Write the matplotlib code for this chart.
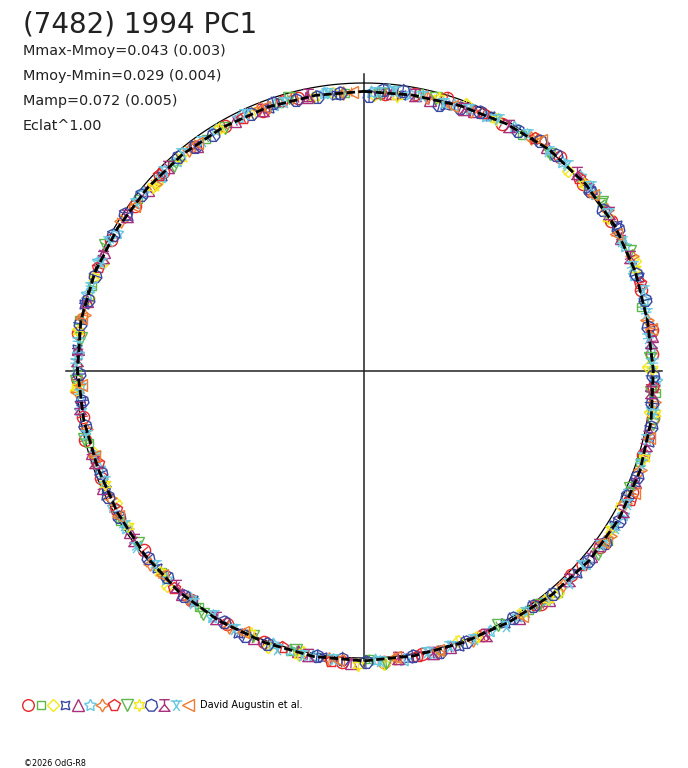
import numpy as np
import matplotlib
matplotlib.use("Agg")
import matplotlib.pyplot as plt
from matplotlib.path import Path
from matplotlib.collections import LineCollection

# ---------------- data ----------------
title = "(7482) 1994 PC1"
info_lines = ["Mmax-Mmoy=0.043 (0.003)", "Mmoy-Mmin=0.029 (0.004)",
              "Mamp=0.072 (0.005)", "Eclat^1.00"]
credit = "David Augustin et al."
copyright_txt = "\u00a92026 OdG-R8"

# model light curve (phase in degrees, delta magnitude)
model_deg = [0, 10, 20, 30, 40, 50, 60, 70, 80, 90, 100, 110, 120, 130, 140, 150, 160, 170,
             180, 190, 200, 210, 220, 230, 240, 250, 260, 270, 280, 290, 300, 310, 320, 330, 340, 350]
model_dm = [0.032, 0.030, 0.022, 0.010, -0.003, -0.008, -0.008, -0.005, -0.001, -0.007, -0.015, -0.023,
            -0.028, -0.027, -0.019, -0.011, -0.008, -0.008, -0.011, -0.011, -0.008, -0.007, -0.004, 0.004,
            0.011, 0.015, 0.011, 0.004, 0.000, 0.004, 0.011, 0.016, 0.020, 0.024, 0.027, 0.031]

phase_01 = [0.012, 0.047, 0.081, 0.118, 0.163, 0.205, 0.241, 0.276, 0.318, 0.352, 0.397, 0.433,
            0.468, 0.512, 0.556, 0.603, 0.641, 0.688, 0.724, 0.771, 0.826, 0.874, 0.918, 0.962,
            0.029, 0.138, 0.228, 0.297, 0.374, 0.489, 0.579, 0.711, 0.849, 0.941]
mag_01 = [0.041, 0.010, 0.020, -0.008, -0.004, -0.002, -0.004, -0.019, -0.024, -0.027, -0.020, -0.010,
          -0.007, -0.018, -0.006, 0.000, 0.014, 0.013, 0.009, -0.004, 0.011, 0.020, 0.023, 0.026,
          0.024, 0.000, -0.012, -0.016, -0.015, -0.017, -0.003, 0.001, 0.020, 0.036]

phase_02 = [0.031, 0.094, 0.152, 0.214, 0.262, 0.301, 0.347, 0.404, 0.458, 0.497, 0.541, 0.597,
            0.662, 0.709, 0.752, 0.798, 0.853, 0.905, 0.951, 0.175, 0.386, 0.625, 0.778, 0.989]
mag_02 = [0.018, 0.015, -0.014, 0.012, -0.019, -0.013, -0.036, -0.012, -0.008, -0.003, -0.009, -0.004,
          0.004, 0.013, 0.000, 0.011, 0.014, 0.027, 0.028, -0.002, -0.027, 0.008, -0.006, 0.036]

phase_03 = [0.006, 0.058, 0.127, 0.189, 0.248, 0.327, 0.386, 0.447, 0.489, 0.534, 0.618, 0.672,
            0.739, 0.812, 0.867, 0.936, 0.982, 0.101, 0.273, 0.553, 0.703, 0.791]
mag_03 = [0.046, 0.009, 0.008, -0.016, 0.012, -0.011, -0.030, 0.004, -0.024, -0.002, -0.016, 0.025,
          -0.006, 0.020, 0.031, 0.029, 0.033, -0.005, -0.005, -0.018, 0.021, 0.010]

phase_04 = [0.021, 0.073, 0.141, 0.198, 0.256, 0.289, 0.338, 0.371, 0.419, 0.476, 0.523, 0.571,
            0.629, 0.681, 0.733, 0.787, 0.842, 0.897, 0.945,
            0.047, 0.167, 0.312, 0.447, 0.602, 0.762, 0.872, 0.984]
mag_04 = [0.036, 0.013, -0.005, -0.009, -0.009, -0.024, -0.023, -0.024, -0.005, -0.011, -0.009, -0.013,
          0.005, 0.013, 0.012, -0.002, 0.020, 0.019, 0.031,
          0.037, -0.014, -0.019, -0.016, 0.004, -0.002, 0.025, 0.042]

phase_05 = [0.016, 0.064, 0.109, 0.174, 0.231, 0.284, 0.312, 0.359, 0.411, 0.452, 0.507, 0.562,
            0.609, 0.654, 0.703, 0.762, 0.818, 0.861, 0.924, 0.967,
            0.038, 0.142, 0.258, 0.392, 0.537, 0.683, 0.789, 0.898]
mag_05 = [0.032, 0.022, -0.005, -0.007, -0.008, -0.014, -0.020, -0.021, -0.015, -0.009, -0.019, -0.006,
          -0.003, 0.013, 0.011, 0.003, 0.007, 0.023, 0.026, 0.032,
          0.034, -0.013, 0.000, -0.025, -0.004, 0.004, 0.007, 0.029]

phase_06 = [0.004, 0.026, 0.052, 0.088, 0.121, 0.146, 0.179, 0.211, 0.238, 0.271, 0.296, 0.331,
            0.364, 0.393, 0.428, 0.462, 0.494, 0.528, 0.551, 0.588, 0.621, 0.657, 0.694, 0.728,
            0.759, 0.793, 0.831, 0.858, 0.884, 0.912, 0.948, 0.977,
            0.014, 0.071, 0.133, 0.196, 0.256, 0.318, 0.348, 0.411, 0.478, 0.541, 0.604, 0.671,
            0.742, 0.812, 0.871, 0.927]
mag_06 = [0.033, 0.027, 0.028, 0.007, -0.002, -0.012, -0.006, -0.006, 0.000, -0.012, -0.016, -0.033,
          -0.027, -0.020, -0.007, -0.013, -0.009, -0.010, -0.003, -0.009, 0.000, 0.008, 0.018, 0.004,
          0.003, 0.000, 0.017, 0.016, 0.023, 0.020, 0.029, 0.029,
          0.023, 0.021, -0.012, 0.004, -0.016, -0.015, -0.032, -0.007, -0.018, -0.005, 0.003, 0.006,
          0.013, 0.000, 0.026, 0.021]

phase_07 = [0.036, 0.099, 0.157, 0.222, 0.267, 0.305, 0.344, 0.381, 0.439, 0.483, 0.519, 0.577,
            0.633, 0.676, 0.717, 0.781, 0.838, 0.893, 0.939, 0.988,
            0.062, 0.186, 0.325, 0.459, 0.605, 0.738, 0.866, 0.959]
mag_07 = [0.026, 0.004, -0.014, -0.001, -0.016, -0.023, -0.033, -0.019, -0.010, -0.006, -0.013, -0.007,
          -0.003, 0.014, 0.012, 0.007, 0.008, 0.022, 0.021, 0.034,
          0.025, -0.015, -0.019, -0.015, 0.000, -0.001, 0.026, 0.023]

phase_08 = [0.009, 0.069, 0.134, 0.201, 0.259, 0.322, 0.399, 0.471, 0.546, 0.614, 0.669, 0.745,
            0.809, 0.871, 0.929, 0.101, 0.366, 0.518, 0.697, 0.953]
mag_08 = [0.038, 0.015, -0.004, -0.009, -0.008, -0.030, -0.013, -0.009, -0.004, -0.005, 0.012, 0.001,
          0.007, 0.017, 0.030, -0.005, -0.017, -0.017, 0.023, 0.023]

phase_09 = [0.041, 0.113, 0.183, 0.243, 0.279, 0.316, 0.356, 0.423, 0.488, 0.538, 0.593, 0.646,
            0.712, 0.768, 0.822, 0.881, 0.957, 0.009, 0.152, 0.262, 0.398, 0.563, 0.744, 0.917]
mag_09 = [0.023, 0.009, -0.014, 0.005, -0.023, -0.012, -0.037, -0.001, -0.022, -0.001, -0.017, 0.013,
          -0.001, 0.011, -0.001, 0.031, 0.020, 0.039, -0.014, -0.001, -0.021, -0.001, -0.003, 0.030]

phase_10 = [0.019, 0.077, 0.138, 0.193, 0.249, 0.298, 0.341, 0.392, 0.436, 0.503, 0.565, 0.626,
            0.684, 0.741, 0.803, 0.864, 0.914, 0.971,
            0.043, 0.161, 0.273, 0.408, 0.536, 0.657, 0.772, 0.887]
mag_10 = [0.043, 0.011, -0.004, -0.006, -0.002, -0.022, -0.023, -0.021, -0.009, -0.025, 0.006, 0.001,
          0.018, 0.001, 0.006, 0.029, 0.022, 0.037,
          0.019, 0.000, -0.023, -0.007, -0.015, 0.019, -0.006, 0.026]

phase_11 = [0.003, 0.022, 0.044, 0.067, 0.091, 0.116, 0.143, 0.169, 0.196, 0.226, 0.253, 0.281,
            0.309, 0.335, 0.362, 0.388, 0.414, 0.443, 0.473, 0.499, 0.526, 0.554, 0.581, 0.607,
            0.636, 0.664, 0.691, 0.719, 0.748, 0.776, 0.804, 0.829, 0.856, 0.886, 0.909, 0.934,
            0.961, 0.986,
            0.011, 0.056, 0.104, 0.156, 0.211, 0.268, 0.321, 0.349, 0.401, 0.458, 0.512, 0.567,
            0.621, 0.677, 0.733, 0.790, 0.842, 0.897, 0.948, 0.973]
mag_11 = [0.050, 0.019, 0.043, 0.018, 0.012, -0.004, -0.005, -0.012, -0.004, -0.001, -0.004, -0.019,
          -0.022, -0.032, -0.023, -0.019, -0.006, -0.009, -0.009, -0.016, -0.008, -0.010, -0.001, -0.003,
          0.005, 0.008, 0.020, 0.012, 0.008, -0.001, 0.010, 0.009, 0.016, 0.018, 0.029, 0.027,
          0.033, 0.036,
          0.026, 0.031, -0.006, 0.000, -0.010, -0.007, -0.016, -0.034, -0.008, -0.017, -0.005, -0.013,
          0.008, 0.006, 0.013, 0.010, 0.007, 0.028, 0.020, 0.037]

phase_12 = [0.029, 0.085, 0.131, 0.186, 0.234, 0.291, 0.329, 0.377, 0.431, 0.481, 0.531, 0.586,
            0.649, 0.698, 0.756, 0.815, 0.878, 0.941,
            0.058, 0.159, 0.262, 0.352, 0.462, 0.614, 0.729, 0.842, 0.968]
mag_12 = [0.027, 0.011, -0.010, -0.005, -0.005, -0.014, -0.028, -0.021, -0.015, -0.007, -0.010, -0.003,
          0.005, 0.015, 0.000, 0.011, 0.018, 0.030,
          0.029, -0.014, -0.003, -0.019, -0.014, 0.005, 0.002, 0.019, 0.026]

phase_13 = [0.008, 0.033, 0.061, 0.096, 0.124, 0.159, 0.191, 0.218, 0.246, 0.274, 0.302, 0.325,
            0.351, 0.378, 0.406, 0.438, 0.465, 0.491, 0.517, 0.548, 0.574, 0.601, 0.631, 0.659,
            0.686, 0.714, 0.737, 0.766, 0.797, 0.825, 0.851, 0.875, 0.902, 0.931, 0.954, 0.979,
            0.017, 0.046, 0.078, 0.111, 0.141, 0.176, 0.205, 0.232, 0.288, 0.339, 0.366, 0.419,
            0.452, 0.534, 0.588, 0.645, 0.701, 0.754, 0.812, 0.889]
mag_13 = [0.035, 0.026, 0.023, -0.001, -0.004, -0.011, 0.000, -0.002, -0.004, -0.018, -0.017, -0.028,
          -0.025, -0.029, -0.014, -0.011, -0.004, -0.013, -0.010, -0.014, -0.005, -0.005, 0.008, 0.007,
          0.017, 0.008, 0.008, 0.001, 0.008, 0.006, 0.016, 0.018, 0.026, 0.020, 0.029, 0.029,
          0.025, 0.033, 0.008, 0.004, -0.017, -0.001, -0.010, 0.005, -0.014, -0.034, -0.018, -0.018,
          -0.002, -0.015, 0.002, -0.002, 0.020, -0.003, 0.013, 0.015]

phase_14 = [0.051, 0.104, 0.171, 0.227, 0.287, 0.349, 0.409, 0.459, 0.514, 0.569, 0.624, 0.701,
            0.779, 0.849, 0.899, 0.993, 0.146, 0.318, 0.483, 0.665, 0.742, 0.942]
mag_14 = [0.034, -0.011, 0.005, -0.011, -0.021, -0.026, -0.017, -0.007, -0.013, -0.003, -0.001, 0.017,
          -0.002, 0.018, 0.020, 0.034, -0.002, -0.033, -0.002, 0.005, 0.015, 0.022]

# per-session magnitude errors
session_err = [0.020, 0.016, 0.022, 0.018, 0.020, 0.018, 0.019, 0.020, 0.016, 0.022, 0.026, 0.020, 0.021, 0.018]

# ---------------- styles ----------------
RED, GREEN, YELLOW = "#e8282a", "#5cb848", "#f2e81a"
BLUE, PURPLE, CYAN, ORANGE = "#3a48a2", "#a8307c", "#66c8e0", "#f07a30"

tee_marker = Path([(-0.8, 0.9), (0.8, 0.9), (0.0, 0.9), (0.0, 0.15),
                   (-0.85, -0.9), (0.85, -0.9), (0.0, 0.15)],
                  [Path.MOVETO, Path.LINETO, Path.MOVETO, Path.LINETO,
                   Path.LINETO, Path.LINETO, Path.LINETO])
cyan_marker = Path([(-1.0, 0.75), (1.0, 0.75), (-0.55, 0.75), (0.0, -0.2), (0.55, 0.75),
                    (0.0, -0.2), (-0.55, -0.9), (0.0, -0.2), (0.55, -0.9), (0.0, 0.75), (0.0, 1.0)],
                   [Path.MOVETO, Path.LINETO, Path.MOVETO, Path.LINETO, Path.LINETO,
                    Path.MOVETO, Path.LINETO, Path.MOVETO, Path.LINETO, Path.MOVETO, Path.LINETO])

styles = [
    ("o", RED, 8.8),
    ("s", GREEN, 6.0),
    ("D", YELLOW, 6.2),
    ((4, 1, 45), BLUE, 9.2),
    ("^", PURPLE, 8.8),
    ((5, 1, 0), CYAN, 9.4),
    ((4, 1, 0), ORANGE, 9.8),
    ("p", RED, 9.0),
    ("v", GREEN, 8.8),
    ((6, 1, 0), YELLOW, 9.2),
    ((7, 0, 0), BLUE, 9.4),
    (tee_marker, PURPLE, 8.8),
    (cyan_marker, CYAN, 9.0),
    ("<", ORANGE, 8.8),
]

sessions = [(phase_01, mag_01), (phase_02, mag_02), (phase_03, mag_03), (phase_04, mag_04),
            (phase_05, mag_05), (phase_06, mag_06), (phase_07, mag_07), (phase_08, mag_08),
            (phase_09, mag_09), (phase_10, mag_10), (phase_11, mag_11), (phase_12, mag_12),
            (phase_13, mag_13), (phase_14, mag_14)]

# ---------------- figure ----------------
W, H, DPI = 688, 768, 100
CX, CY, RPX = 364.0, 370.5, 287.5
fig = plt.figure(figsize=(W / DPI, H / DPI), dpi=DPI)
fig.patch.set_facecolor("white")
ax = fig.add_axes([0, 0, 1, 1])
ax.set_xlim(-CX / RPX, (W - CX) / RPX)
ax.set_ylim((CY - H) / RPX, CY / RPX)
ax.axis("off")

INK = "#222222"


def polar_xy(phase, dm):
    th = np.pi / 2 - 2 * np.pi * np.asarray(phase, float)
    r = 10 ** (-0.4 * np.asarray(dm, float))
    return r * np.cos(th), r * np.sin(th)


# reference circle
t = np.linspace(0, 2 * np.pi, 721)
ax.plot(np.cos(t), np.sin(t), color="black", lw=0.9, zorder=2)
# cross
L = 298.0 / RPX
ax.plot([-L, L], [0, 0], color=INK, lw=1.1, zorder=1)
ax.plot([0, 0], [-296.5 / RPX, 296.5 / RPX], color=INK, lw=1.1, zorder=1)

# data points with radial error bars
for (ph, mg), (mk, col, ms), err in zip(sessions, styles, session_err):
    ph = np.asarray(ph)
    mg = np.asarray(mg)
    x1, y1 = polar_xy(ph, mg - err)
    x2, y2 = polar_xy(ph, mg + err)
    segs = np.stack([np.column_stack([x1, y1]), np.column_stack([x2, y2])], axis=1)
    ax.add_collection(LineCollection(segs, colors=col, linewidths=0.9, zorder=3))
    x, y = polar_xy(ph, mg)
    ax.plot(x, y, ls="none", marker=mk, ms=ms, mfc="none", mec=col, mew=1.0, zorder=3)

# model curve
mdeg = np.asarray(model_deg + [model_deg[0] + 360], float)
mdm = np.asarray(model_dm + [model_dm[0]], float)
mx, my = polar_xy(mdeg / 360.0, mdm)
ax.plot(mx, my, color="black", lw=2.0, ls=(0, (3.0, 1.2)), zorder=5)

# ---------------- texts ----------------
def fx(px):
    return px / W


def fy(py):
    return 1 - py / H


fig.text(fx(23), fy(24), title, fontsize=20, family="DejaVu Sans", color=INK,
         ha="left", va="center")
for i, line in enumerate(info_lines):
    fig.text(fx(23), fy(51 + 25 * i), line, fontsize=10.4, family="DejaVu Sans", color=INK,
             ha="left", va="center")

# legend row
leg_x0, leg_dx, leg_y = 28.3, 12.3, 705
for i, (mk, col, ms) in enumerate(styles):
    fig.lines.append(plt.Line2D([fx(leg_x0 + leg_dx * i)], [fy(leg_y)], transform=fig.transFigure,
                                ls="none", marker=mk, ms=ms * 0.95, mfc="none", mec=col, mew=1.0))
fig.text(fx(200), fy(705), credit, fontsize=7, family="DejaVu Sans", color="black",
         ha="left", va="center")
fig.text(fx(24), fy(763), copyright_txt, fontsize=5.8, family="DejaVu Sans", color="black",
         ha="left", va="center")

fig.savefig("out.png", dpi=DPI, facecolor="white")
